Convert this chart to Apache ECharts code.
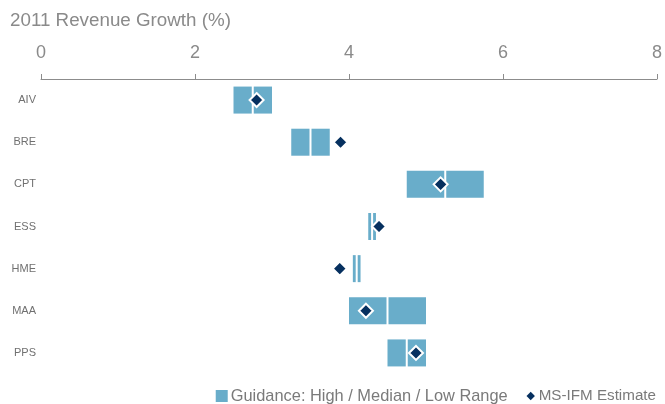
<!DOCTYPE html>
<html>
<head>
<meta charset="utf-8">
<script src="https://cdn.jsdelivr.net/npm/echarts@6/dist/echarts.min.js"></script>
<style>html,body{margin:0;padding:0;background:#fff;}#c{width:665px;height:404px;}</style>
</head>
<body>
<div id="c"></div>
<script>
const categories = ['AIV', 'BRE', 'CPT', 'ESS', 'HME', 'MAA', 'PPS'];
const lowValues = [2.5, 3.25, 4.75, 4.25, 4.05, 4.0, 4.5];
const medianValues = [2.75, 3.5, 5.25, 4.3, 4.1, 4.5, 4.75];
const highValues = [3.0, 3.75, 5.75, 4.35, 4.15, 5.0, 5.0];
const estimateValues = [2.8, 3.89, 5.19, 4.39, 3.88, 4.22, 4.87];
const xTicks = [0, 2, 4, 6, 8];

const barColor = '#69adca';
const navy = '#06305f';
const font = 'Liberation Sans, Arial, sans-serif';

const rangeData = categories.map((c, i) => [i, lowValues[i], medianValues[i], highValues[i]]);
const estData = categories.map((c, i) => [estimateValues[i], i]);

const chart = echarts.init(document.getElementById('c'));
chart.setOption({
  animation: false,
  title: {
    text: '2011 Revenue Growth (%)',
    left: 5, top: 6,
    textStyle: { fontFamily: font, fontSize: 18.8, fontWeight: 'normal', color: '#8a8a8a' }
  },
  grid: { left: 41, right: 5, top: 79, bottom: 30 },
  xAxis: {
    type: 'value', position: 'top', min: xTicks[0], max: xTicks[xTicks.length - 1], interval: 2,
    axisLine: { show: true, lineStyle: { color: '#8c8c8c', width: 1 } },
    axisTick: { show: true, length: 5, lineStyle: { color: '#8c8c8c' } },
    splitLine: { show: false },
    axisLabel: { margin: 17, fontFamily: font, fontSize: 18, color: '#8a8a8a' }
  },
  yAxis: {
    type: 'category', data: categories, inverse: true,
    axisLine: { show: false }, axisTick: { show: false },
    axisLabel: { margin: 5, fontFamily: font, fontSize: 11, color: '#707070' }
  },
  legend: {
    right: 9, top: 388, padding: 0, itemGap: 17, itemWidth: 12, itemHeight: 12,
    data: [
      { name: 'Guidance: High / Median / Low Range', icon: 'rect', itemStyle: { color: barColor, opacity: 1 },
        textStyle: { fontFamily: font, fontSize: 16.4, color: '#7a7a7a', padding: [0, 0, 0, -2] } },
      { name: 'MS-IFM Estimate', icon: 'path://M0,0M12,12M6,1.8L10.2,6L6,10.2L1.8,6Z', itemStyle: { color: navy, opacity: 1, borderWidth: 0 },
        textStyle: { fontFamily: font, fontSize: 15.2, color: '#7a7a7a', padding: [0, 0, 0, -3] } }
    ]
  },
  series: [
    {
      name: 'Guidance: High / Median / Low Range',
      type: 'custom',
      itemStyle: { color: barColor },
      encode: { x: [1, 2, 3], y: 0 },
      data: rangeData,
      renderItem: function (params, api) {
        const cat = api.value(0);
        const pLow = api.coord([api.value(1), cat]);
        const pMed = api.coord([api.value(2), cat]);
        const pHigh = api.coord([api.value(3), cat]);
        const h = 27;
        const y = pLow[1] - h / 2;
        return {
          type: 'group',
          children: [
            { type: 'rect', shape: { x: pLow[0], y: y, width: pMed[0] - 1 - pLow[0], height: h }, style: { fill: barColor } },
            { type: 'rect', shape: { x: pMed[0] + 1, y: y, width: pHigh[0] - pMed[0] - 1, height: h }, style: { fill: barColor } }
          ]
        };
      }
    },
    {
      name: 'MS-IFM Estimate',
      type: 'scatter',
      symbol: 'diamond',
      symbolSize: 14,
      itemStyle: { color: navy, borderColor: '#ffffff', borderWidth: 2, opacity: 1 },
      data: estData,
      z: 5
    }
  ]
});
</script>
</body>
</html>
